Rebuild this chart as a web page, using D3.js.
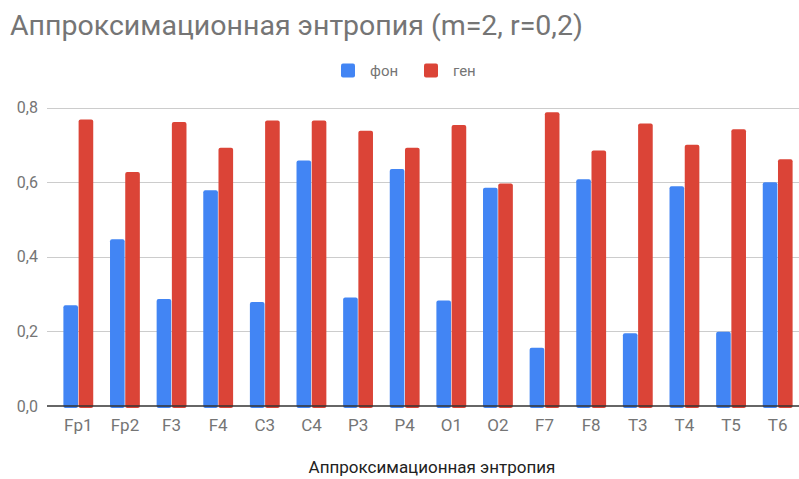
<!DOCTYPE html>
<html>
<head>
<meta charset="utf-8">
<script src="https://cdn.jsdelivr.net/npm/d3@7"></script>
<style>
  body { margin: 0; background: #fff; }
  text { font-family: Roboto, "Noto Sans", sans-serif; }
</style>
</head>
<body>
<div id="chart"></div>
<script>
// data
var channels = ["Fp1", "Fp2", "F3", "F4", "C3", "C4", "P3", "P4", "O1", "O2", "F7", "F8", "T3", "T4", "T5", "T6"];
var fon = [0.270, 0.447, 0.287, 0.578, 0.279, 0.658, 0.291, 0.635, 0.283, 0.585, 0.156, 0.608, 0.195, 0.589, 0.199, 0.600];
var gen = [0.768, 0.627, 0.761, 0.692, 0.765, 0.765, 0.738, 0.692, 0.753, 0.596, 0.787, 0.685, 0.757, 0.700, 0.742, 0.661];
var seriesNames = ["фон", "ген"];
var seriesColors = ["#4285f4", "#db4437"];
var yTicks = [0, 0.2, 0.4, 0.6, 0.8];

var width = 799, height = 479;
var textColor = "#757575";

var svg = d3.select("#chart").append("svg")
    .attr("width", width)
    .attr("height", height);

var x = d3.scaleBand()
    .domain(channels)
    .range([55, 801])
    .paddingInner(0.36)
    .paddingOuter(0.18);

var xInner = d3.scaleBand()
    .domain(seriesNames)
    .range([0, x.bandwidth()])
    .paddingInner(0.04);

var y = d3.scaleLinear()
    .domain([0, 0.8])
    .range([406, 107.5]);

// title
svg.append("text")
    .attr("x", 10)
    .attr("y", 35)
    .style("font-size", "28.5px")
    .style("fill", textColor)
    .text("Аппроксимационная энтропия (m=2, r=0,2)");

// legend
var legend = svg.append("g").attr("transform", "translate(341,63.5)");
var legendX = [0, 83];
seriesNames.forEach(function(name, i) {
  var g = legend.append("g").attr("transform", "translate(" + legendX[i] + ",0)");
  g.append("rect")
    .attr("width", 14).attr("height", 14)
    .attr("rx", 2)
    .style("fill", seriesColors[i]);
  g.append("text")
    .attr("x", 29)
    .attr("y", 7)
    .attr("dy", "0.35em")
    .style("font-size", "15px")
    .style("fill", textColor)
    .text(name);
});

// gridlines
svg.append("g")
  .selectAll("line")
  .data(yTicks.slice(1))
  .enter().append("line")
    .attr("x1", 47).attr("x2", 799)
    .attr("y1", function(d) { return Math.round(y(d)) + 0.5; })
    .attr("y2", function(d) { return Math.round(y(d)) + 0.5; })
    .style("stroke", "#cccccc")
    .style("stroke-width", 1);

// y labels
svg.append("g")
  .selectAll("text")
  .data(yTicks)
  .enter().append("text")
    .attr("x", 38)
    .attr("y", function(d) { return y(d); })
    .attr("dy", "0.35em")
    .attr("text-anchor", "end")
    .style("font-size", "16px")
    .style("fill", textColor)
    .text(function(d) { return d3.format(".1f")(d).replace(".", ","); });

// bars
var rows = channels.map(function(c, i) { return {ch: c, values: [fon[i], gen[i]]}; });
var group = svg.append("g")
  .selectAll("g")
  .data(rows)
  .enter().append("g")
    .attr("transform", function(d) { return "translate(" + x(d.ch) + ",0)"; });

group.selectAll("rect")
  .data(function(d) { return d.values.map(function(v, j) { return {s: seriesNames[j], v: v, c: seriesColors[j]}; }); })
  .enter().append("rect")
    .attr("x", function(d) { return xInner(d.s); })
    .attr("width", xInner.bandwidth())
    .attr("y", function(d) { return y(d.v); })
    .attr("height", function(d) { return y(0) - y(d.v) + 2; })
    .attr("rx", 2)
    .style("fill", function(d) { return d.c; });

// baseline
svg.append("line")
    .attr("x1", 47).attr("x2", 799)
    .attr("y1", y(0)).attr("y2", y(0))
    .style("stroke", "#333333")
    .style("stroke-width", 1.5);

// x labels
svg.append("g")
  .selectAll("text")
  .data(channels)
  .enter().append("text")
    .attr("x", function(d) { return x(d) + x.bandwidth() / 2; })
    .attr("y", 431)
    .attr("text-anchor", "middle")
    .style("font-size", "17px")
    .style("fill", textColor)
    .text(function(d) { return d; });

// x axis title
svg.append("text")
    .attr("x", 432)
    .attr("y", 473)
    .attr("text-anchor", "middle")
    .style("font-size", "17px")
    .style("fill", "#222222")
    .text("Аппроксимационная энтропия");
</script>
</body>
</html>
